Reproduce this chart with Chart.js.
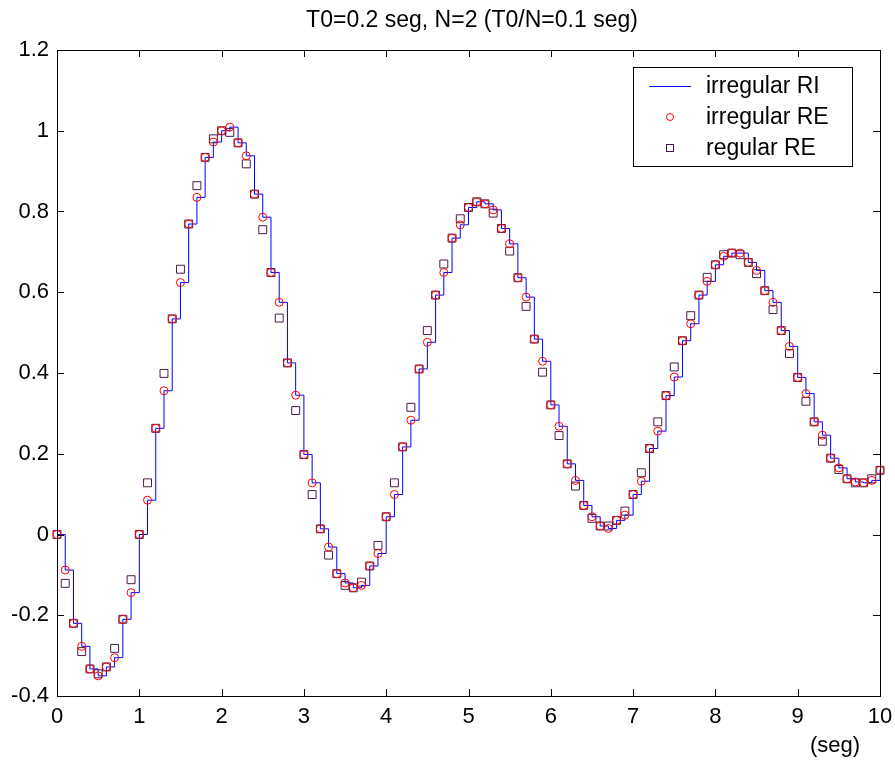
<!DOCTYPE html>
<html>
<head>
<meta charset="utf-8">
<title>T0=0.2 seg, N=2</title>
<script src="https://cdn.jsdelivr.net/npm/chart.js@4.4.0/dist/chart.umd.min.js"></script>
<style>
    html, body { margin: 0; padding: 0; background: #ffffff; }
    #wrap { width: 895px; height: 762px; }
</style>
</head>
<body>
<div id="wrap"><canvas id="chart" width="895" height="762"></canvas></div>
<script>
// Sample times (seg), every T0/N = 0.1 seg
const times = [
    0.0, 0.1, 0.2, 0.3, 0.4, 0.5, 0.6, 0.7, 0.8, 0.9,
    1.0, 1.1, 1.2, 1.3, 1.4, 1.5, 1.6, 1.7, 1.8, 1.9,
    2.0, 2.1, 2.2, 2.3, 2.4, 2.5, 2.6, 2.7, 2.8, 2.9,
    3.0, 3.1, 3.2, 3.3, 3.4, 3.5, 3.6, 3.7, 3.8, 3.9,
    4.0, 4.1, 4.2, 4.3, 4.4, 4.5, 4.6, 4.7, 4.8, 4.9,
    5.0, 5.1, 5.2, 5.3, 5.4, 5.5, 5.6, 5.7, 5.8, 5.9,
    6.0, 6.1, 6.2, 6.3, 6.4, 6.5, 6.6, 6.7, 6.8, 6.9,
    7.0, 7.1, 7.2, 7.3, 7.4, 7.5, 7.6, 7.7, 7.8, 7.9,
    8.0, 8.1, 8.2, 8.3, 8.4, 8.5, 8.6, 8.7, 8.8, 8.9,
    9.0, 9.1, 9.2, 9.3, 9.4, 9.5, 9.6, 9.7, 9.8, 9.9,
    10.0
];

// irregular sampling (circles) - also the held values of the RI staircase
const irregularRE = [
    0.000, -0.088, -0.220, -0.277, -0.333, -0.350, -0.328, -0.305, -0.210, -0.144,
    0.000, 0.085, 0.263, 0.356, 0.534, 0.624, 0.769, 0.835, 0.934, 0.972,
    1.000, 1.009, 0.970, 0.938, 0.843, 0.786, 0.649, 0.575, 0.425, 0.345,
    0.198, 0.128, 0.014, -0.031, -0.097, -0.120, -0.132, -0.126, -0.078, -0.047,
    0.044, 0.099, 0.217, 0.283, 0.410, 0.476, 0.593, 0.649, 0.734, 0.767,
    0.810, 0.824, 0.819, 0.804, 0.758, 0.720, 0.636, 0.588, 0.484, 0.429,
    0.321, 0.268, 0.175, 0.134, 0.072, 0.044, 0.021, 0.015, 0.035, 0.048,
    0.099, 0.132, 0.213, 0.256, 0.344, 0.390, 0.480, 0.522, 0.593, 0.627,
    0.668, 0.689, 0.697, 0.697, 0.674, 0.654, 0.604, 0.575, 0.505, 0.466,
    0.389, 0.349, 0.279, 0.246, 0.189, 0.165, 0.138, 0.130, 0.128, 0.134,
    0.159
];

// regular sampling (squares)
const regularRE = [
    0.000, -0.121, -0.220, -0.290, -0.333, -0.345, -0.328, -0.282, -0.210, -0.112,
    0.000, 0.128, 0.263, 0.399, 0.534, 0.657, 0.769, 0.864, 0.934, 0.980,
    1.000, 0.996, 0.970, 0.918, 0.843, 0.755, 0.649, 0.536, 0.425, 0.307,
    0.198, 0.099, 0.014, -0.051, -0.097, -0.126, -0.132, -0.118, -0.078, -0.027,
    0.044, 0.128, 0.217, 0.315, 0.410, 0.505, 0.593, 0.670, 0.734, 0.782,
    0.810, 0.824, 0.819, 0.796, 0.758, 0.702, 0.636, 0.565, 0.484, 0.402,
    0.321, 0.245, 0.175, 0.120, 0.072, 0.040, 0.021, 0.021, 0.035, 0.058,
    0.099, 0.153, 0.213, 0.279, 0.344, 0.415, 0.480, 0.542, 0.593, 0.637,
    0.668, 0.693, 0.697, 0.693, 0.674, 0.646, 0.604, 0.557, 0.505, 0.448,
    0.389, 0.330, 0.279, 0.231, 0.189, 0.161, 0.138, 0.128, 0.128, 0.138,
    0.159
];

const xTickLabels = ['0', '1', '2', '3', '4', '5', '6', '7', '8', '9', '10'];
const yTickLabels = ['-0.4', '-0.2', '0', '0.2', '0.4', '0.6', '0.8', '1', '1.2'];
const seriesNames = ['irregular RI', 'irregular RE', 'regular RE'];

const FONT = "'Liberation Sans', Arial, sans-serif";
const BLUE = '#0000ff';
const RED = '#ff0000';
const PURPLE = '#4b1a4b';

function toPoints(values) {
    return times.map((t, i) => ({ x: t, y: values[i] }));
}

// MATLAB-like frame: box, inward ticks, title, axis unit and legend
const matlabFrame = {
    id: 'matlabFrame',
    afterDraw(chart) {
        const ctx = chart.ctx;
        const area = chart.chartArea;
        const xs = chart.scales.x;
        const ys = chart.scales.y;
        const tick = 7;

        ctx.save();
        ctx.strokeStyle = '#000';
        ctx.lineWidth = 1;
        ctx.strokeRect(area.left + 0.5, area.top + 0.5, area.right - area.left, area.bottom - area.top);

        ctx.beginPath();
        xs.ticks.forEach(t => {
            const px = Math.round(xs.getPixelForValue(t.value)) + 0.5;
            ctx.moveTo(px, area.bottom);
            ctx.lineTo(px, area.bottom - tick);
            ctx.moveTo(px, area.top);
            ctx.lineTo(px, area.top + tick);
        });
        ys.ticks.forEach(t => {
            const py = Math.round(ys.getPixelForValue(t.value)) + 0.5;
            ctx.moveTo(area.left, py);
            ctx.lineTo(area.left + tick, py);
            ctx.moveTo(area.right, py);
            ctx.lineTo(area.right - tick, py);
        });
        ctx.stroke();

        // title
        ctx.fillStyle = '#000';
        ctx.font = '23px ' + FONT;
        ctx.textAlign = 'center';
        ctx.textBaseline = 'middle';
        ctx.fillText('T0=0.2 seg, N=2 (T0/N=0.1 seg)', 472, 21);

        // unit under the x axis
        ctx.font = '22px ' + FONT;
        ctx.textAlign = 'center';
        ctx.fillText('(seg)', 835, 746);

        // legend
        const lx = 633, ly = 67, lw = 219, lh = 99;
        ctx.fillStyle = '#fff';
        ctx.fillRect(lx, ly, lw, lh);
        ctx.strokeStyle = '#000';
        ctx.strokeRect(lx + 0.5, ly + 0.5, lw, lh);

        const rows = [86, 117, 148];
        ctx.strokeStyle = BLUE;
        ctx.beginPath();
        ctx.moveTo(649, rows[0] + 0.5);
        ctx.lineTo(691, rows[0] + 0.5);
        ctx.stroke();

        ctx.strokeStyle = RED;
        ctx.beginPath();
        ctx.arc(670, rows[1], 3.5, 0, Math.PI * 2);
        ctx.stroke();

        ctx.strokeStyle = PURPLE;
        ctx.strokeRect(666.5, rows[2] - 3.5, 7, 7);

        ctx.fillStyle = '#000';
        ctx.font = '23px ' + FONT;
        ctx.textAlign = 'left';
        ctx.textBaseline = 'middle';
        seriesNames.forEach((name, i) => ctx.fillText(name, 706, rows[i] + 1));
        ctx.restore();
    }
};

const ctx = document.getElementById('chart').getContext('2d');
new Chart(ctx, {
    type: 'line',
    data: {
        datasets: [
            {
                label: seriesNames[0],
                data: toPoints(irregularRE),
                borderColor: BLUE,
                borderWidth: 1,
                stepped: true,
                pointRadius: 0,
                fill: false,
                order: 3
            },
            {
                label: seriesNames[2],
                data: toPoints(regularRE),
                showLine: false,
                pointStyle: 'rect',
                pointRadius: 5.6,
                pointBorderColor: PURPLE,
                pointBackgroundColor: 'rgba(0,0,0,0)',
                pointBorderWidth: 1,
                clip: false,
                order: 2
            },
            {
                label: seriesNames[1],
                data: toPoints(irregularRE),
                showLine: false,
                pointStyle: 'circle',
                pointRadius: 4,
                pointBorderColor: RED,
                pointBackgroundColor: 'rgba(0,0,0,0)',
                pointBorderWidth: 1,
                clip: false,
                order: 1
            }
        ]
    },
    options: {
        responsive: false,
        animation: false,
        layout: { padding: { top: 50, right: 15, left: 0, bottom: 0 } },
        plugins: {
            legend: { display: false },
            title: { display: false },
            tooltip: { enabled: false }
        },
        scales: {
            x: {
                type: 'linear',
                min: 0,
                max: 10,
                afterFit: scale => {
                    scale.height = 66;
                    scale.paddingLeft = 0;
                    scale.paddingRight = 0;
                },
                grid: { display: false, drawTicks: false },
                border: { display: false },
                ticks: {
                    stepSize: 1,
                    padding: 8,
                    color: '#000',
                    font: { family: FONT, size: 22 },
                    maxRotation: 0,
                    callback: (value, index) => xTickLabels[index]
                }
            },
            y: {
                type: 'linear',
                min: -0.4,
                max: 1.2,
                afterFit: scale => {
                    scale.width = 57;
                    scale.paddingTop = 0;
                    scale.paddingBottom = 0;
                },
                grid: { display: false, drawTicks: false },
                border: { display: false },
                ticks: {
                    stepSize: 0.2,
                    padding: 8,
                    color: '#000',
                    font: { family: FONT, size: 22 },
                    callback: (value, index) => yTickLabels[index]
                }
            }
        }
    },
    plugins: [matlabFrame]
});
</script>
</body>
</html>
